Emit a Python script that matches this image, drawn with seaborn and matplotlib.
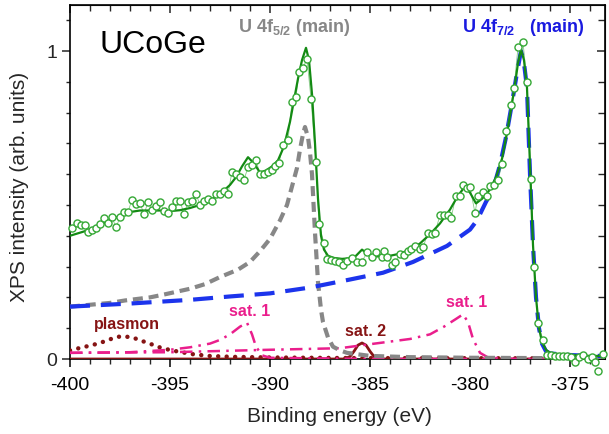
import matplotlib
matplotlib.use("Agg")
import matplotlib.pyplot as plt
from matplotlib.ticker import MultipleLocator, FixedLocator, NullFormatter
import seaborn as sns
import pandas as pd

# ---------------- data ----------------
data_x = [-399.9, -399.67, -399.45, -399.25, -399.1, -398.9, -398.7, -398.5, -398.3, -398.1,
          -397.9, -397.7, -397.5, -397.3, -397.1, -396.9, -396.7, -396.5, -396.3, -396.1,
          -395.9, -395.7, -395.5, -395.3, -395.1, -394.9, -394.7, -394.5, -394.3, -394.1,
          -393.9, -393.7, -393.5, -393.3, -393.1, -392.9, -392.7, -392.5, -392.3, -392.1,
          -391.9, -391.7, -391.5, -391.3, -391.1, -390.9, -390.7, -390.5, -390.3, -390.1,
          -389.9, -389.75, -389.55, -389.35, -389.1, -388.9, -388.7, -388.55, -388.35, -388.15,
          -387.95, -387.7, -387.55, -387.3, -387.17, -386.95, -386.75, -386.55, -386.33, -386.13,
          -385.9, -385.65, -385.4, -385.15, -384.9, -384.7, -384.4, -384.3, -384.15, -383.9,
          -383.75, -383.5, -383.3, -383.1, -382.95, -382.75, -382.5, -382.35, -382.1, -381.9,
          -381.75, -381.5, -381.3, -381.1, -380.95, -380.7, -380.5, -380.35, -380.15, -380.0,
          -379.75, -379.6, -379.35, -379.15, -379.0, -378.8, -378.6, -378.4, -378.2, -377.95,
          -377.8, -377.6, -377.35, -377.15, -376.95, -376.8, -376.6, -376.35, -376.15, -375.95,
          -375.75, -375.55, -375.35, -375.15, -374.95, -374.75, -374.55, -374.35, -374.1, -373.9,
          -373.75, -373.6, -373.35]
data_y = [0.424, 0.441, 0.435, 0.435, 0.413, 0.420, 0.424, 0.438, 0.457, 0.443,
          0.460, 0.427, 0.460, 0.478, 0.478, 0.517, 0.503, 0.506, 0.470, 0.509,
          0.484, 0.496, 0.509, 0.479, 0.474, 0.492, 0.514, 0.514, 0.470, 0.509,
          0.512, 0.536, 0.500, 0.512, 0.519, 0.514, 0.536, 0.536, 0.546, 0.536,
          0.608, 0.600, 0.590, 0.582, 0.622, 0.630, 0.645, 0.600, 0.600, 0.608,
          0.612, 0.625, 0.636, 0.695, 0.710, 0.835, 0.850, 0.933, 0.945, 0.974,
          0.844, 0.638, 0.438, 0.376, 0.325, 0.322, 0.319, 0.314, 0.305, 0.319,
          0.327, 0.316, 0.316, 0.346, 0.330, 0.346, 0.330, 0.350, 0.330, 0.305,
          0.314, 0.340, 0.338, 0.352, 0.357, 0.368, 0.357, 0.362, 0.410, 0.406,
          0.410, 0.467, 0.467, 0.467, 0.457, 0.530, 0.530, 0.565, 0.554, 0.558,
          0.474, 0.530, 0.543, 0.530, 0.560, 0.565, 0.580, 0.633, 0.740, 0.825,
          0.880, 1.012, 1.028, 0.898, 0.584, 0.298, 0.117, 0.062, 0.013, 0.013,
          0.011, 0.011, 0.011, 0.011, 0.005, -0.009, 0.005, 0.013, 0.000, 0.005,
          -0.009, -0.040, 0.016]

fit_x = [-400, -399.5, -399, -398.5, -398, -397.5, -397, -396.5, -396, -395.5, -395, -394.5,
         -394, -393.5, -393, -392.5, -392, -391.7, -391.4, -391.1, -390.8, -390.5, -390.2,
         -389.9, -389.6, -389.3, -389.0, -388.8, -388.6, -388.4, -388.2, -388.05, -387.9,
         -387.75, -387.6, -387.45, -387.3, -387.1, -386.8, -386.4, -386.0, -385.7, -385.4,
         -385.1, -384.8, -384.4, -384.0, -383.5, -383.0, -382.5, -382.0, -381.5, -381.0,
         -380.6, -380.25, -380.0, -379.7, -379.4, -379.0, -378.7, -378.4, -378.1, -377.8,
         -377.6, -377.45, -377.3, -377.15, -377.0, -376.85, -376.7, -376.55, -376.4, -376.2,
         -376.0, -375.5, -375.0, -374.0, -373.25]
fit_y = [0.400, 0.410, 0.420, 0.435, 0.450, 0.465, 0.477, 0.482, 0.482, 0.482, 0.480, 0.483,
         0.490, 0.500, 0.515, 0.535, 0.565, 0.590, 0.625, 0.655, 0.635, 0.605, 0.612,
         0.625, 0.645, 0.690, 0.770, 0.840, 0.910, 0.970, 1.010, 0.970, 0.860,
         0.700, 0.520, 0.400, 0.355, 0.335, 0.328, 0.325, 0.327, 0.335, 0.355,
         0.340, 0.333, 0.333, 0.335, 0.342, 0.355, 0.375, 0.405, 0.440, 0.485,
         0.530, 0.560, 0.540, 0.505, 0.520, 0.550, 0.590, 0.650, 0.750, 0.870,
         0.960, 1.005, 0.970, 0.880, 0.630, 0.370, 0.200, 0.100, 0.055, 0.030,
         0.020, 0.015, 0.013, 0.010, 0.010]

f72_x = [-400, -397, -394, -392, -390, -388, -386, -384.35, -382.85, -381.15, -380.0,
         -379.65, -379.2, -378.85, -378.5, -378.2, -377.9, -377.65, -377.45, -377.3,
         -377.15, -377.0, -376.85, -376.7, -376.55, -376.4, -376.2, -376.0, -375.0,
         -374.0, -373.25]
f72_y = [0.170, 0.180, 0.192, 0.203, 0.213, 0.232, 0.258, 0.280, 0.315, 0.367, 0.420,
         0.450, 0.510, 0.550, 0.630, 0.720, 0.830, 0.930, 1.000, 0.960,
         0.880, 0.600, 0.370, 0.200, 0.100, 0.050, 0.025, 0.018, 0.013,
         0.010, 0.010]

f52_x = [-400, -398, -397.25, -396, -395.25, -394, -393.25, -392.5, -391.6, -391, -390.5,
         -390, -389.5, -389.15, -388.9, -388.65, -388.5, -388.35, -388.25, -388.1, -388.0,
         -387.9, -387.75, -387.6, -387.45, -387.35, -387.1, -386.85, -386.5, -386.15,
         -385, -383, -380, -373.25]
f52_y = [0.170, 0.182, 0.190, 0.200, 0.210, 0.228, 0.243, 0.266, 0.290, 0.315, 0.350,
         0.390, 0.450, 0.500, 0.560, 0.620, 0.680, 0.730, 0.753, 0.720, 0.670,
         0.600, 0.410, 0.250, 0.160, 0.120, 0.070, 0.040, 0.028, 0.020,
         0.010, 0.006, 0.004, 0.002]

sat1a_x = [-400, -397, -395, -394, -393, -392.5, -392, -391.5, -391.15, -390.9, -390.7,
           -390.4, -390, -385, -373.25]
sat1a_y = [0.020, 0.022, 0.030, 0.038, 0.050, 0.062, 0.080, 0.105, 0.118, 0.080, 0.040,
           0.012, 0.004, 0.000, 0.000]

sat1b_x = [-400, -395, -390, -386.5, -385, -383, -382, -381.3, -380.7, -380.35, -380.1,
           -379.85, -379.5, -379.1, -378, -373.25]
sat1b_y = [0.020, 0.022, 0.030, 0.035, 0.048, 0.065, 0.080, 0.105, 0.130, 0.145, 0.120,
           0.065, 0.020, 0.005, 0.000, 0.000]

plas_x = [-400, -399.75, -399.1, -398.6, -398.15, -397.75, -397.4, -397, -396.65, -396.25,
          -395.85, -395.4, -394.75, -393.9, -393.1, -391.9, -390, -388, -386, -373.25]
plas_y = [0.028, 0.032, 0.042, 0.050, 0.060, 0.070, 0.074, 0.071, 0.065, 0.055,
          0.046, 0.035, 0.026, 0.016, 0.010, 0.007, 0.005, 0.004, 0.003, 0.002]

sat2_x = [-400, -386.3, -386.0, -385.8, -385.6, -385.4, -385.2, -385.0, -384.8, -384.5, -373.25]
sat2_y = [0.0, 0.0, 0.008, 0.025, 0.045, 0.052, 0.045, 0.025, 0.008, 0.0, 0.0]

x_ticks = [-400, -395, -390, -385, -380, -375]
y_ticks = [0, 1]
x_label = "Binding energy (eV)"
y_label = "XPS intensity (arb. units)"

# ---------------- style ----------------
sns.set_style("ticks")
plt.rcParams["font.family"] = ["Liberation Sans", "DejaVu Sans"]
plt.rcParams["mathtext.fontset"] = "custom"
plt.rcParams["mathtext.rm"] = "Liberation Sans"
plt.rcParams["mathtext.bf"] = "Liberation Sans:bold"

fig = plt.figure(figsize=(6.09, 4.35), dpi=100)
ax = fig.add_axes([70 / 609, 1 - 360 / 435, 535 / 609, 354 / 435])

GREEN_LINE = "#138a13"
GREEN_PT = "#35a835"
GRAY = "#878787"
BLUE = "#1c34ec"
PINK = "#ea1e8c"
DRED = "#861414"

def curve(x, y, **kw):
    df = pd.DataFrame({"x": x, "y": y})
    sns.lineplot(data=df, x="x", y="y", ax=ax, sort=False, estimator=None, **kw)

curve(sat2_x, sat2_y, color=DRED, lw=2.0, zorder=3)
curve(plas_x, plas_y, color=DRED, lw=3.2, dashes=(0.01, 1.9), zorder=3,
      dash_capstyle="round")
curve(sat1a_x, sat1a_y, color=PINK, lw=1.8, dashes=(5, 2.5, 1, 2.5), zorder=3)
curve(sat1b_x, sat1b_y, color=PINK, lw=1.8, dashes=(5, 2.5, 1, 2.5), zorder=3)
curve(f52_x, f52_y, color=GRAY, lw=3.0, dashes=(2.4, 1.4), zorder=4)
curve(f72_x, f72_y, color=BLUE, lw=3.0, dashes=(4.8, 2.6), zorder=4)
curve(data_x, data_y, color=GREEN_PT, lw=0.6, alpha=0.6, zorder=5)
curve(fit_x, fit_y, color=GREEN_LINE, lw=1.6, zorder=6)
dfp = pd.DataFrame({"x": data_x, "y": data_y})
sns.scatterplot(data=dfp, x="x", y="y", ax=ax, marker="o", s=26, facecolor="white",
                edgecolor=GREEN_PT, linewidth=1.0, zorder=7, clip_on=False)

ax.set_xlim(-400, -373.25)
ax.set_ylim(0, 1.149)

# ticks
ax.xaxis.set_major_locator(FixedLocator(x_ticks))
ax.xaxis.set_minor_locator(MultipleLocator(1))
ax.yaxis.set_major_locator(FixedLocator(y_ticks))
ax.yaxis.set_minor_locator(MultipleLocator(0.1))
ax.set_xticklabels([str(v) for v in x_ticks])
ax.set_yticklabels([str(v) for v in y_ticks])
ax.tick_params(axis="x", which="major", direction="out", length=6, width=1.1,
               labelsize=14, pad=6.5, colors="black")
ax.tick_params(axis="x", which="minor", direction="out", length=3.5, width=1.0)
ax.tick_params(axis="y", which="major", direction="out", length=5.5, width=1.1,
               labelsize=14, pad=3.5)
ax.tick_params(axis="y", which="minor", direction="out", length=3, width=1.0)

sec_x = ax.secondary_xaxis("top")
sec_x.xaxis.set_major_locator(FixedLocator(x_ticks))
sec_x.xaxis.set_minor_locator(MultipleLocator(1))
sec_x.xaxis.set_major_formatter(NullFormatter())
sec_x.tick_params(which="major", direction="in", length=6, width=1.1)
sec_x.tick_params(which="minor", direction="in", length=4, width=1.0)

sec_y = ax.secondary_yaxis("right")
sec_y.yaxis.set_major_locator(FixedLocator(y_ticks))
sec_y.yaxis.set_minor_locator(MultipleLocator(0.1))
sec_y.yaxis.set_major_formatter(NullFormatter())
sec_y.tick_params(which="major", direction="in", length=6, width=1.1)
sec_y.tick_params(which="minor", direction="in", length=5, width=1.0)

for s in ax.spines.values():
    s.set_visible(True)
    s.set_linewidth(1.2)
    s.set_color("black")

ax.set_xlabel(x_label, fontsize=15)
ax.set_ylabel(y_label, fontsize=15)
ax.xaxis.set_label_coords(0.503, -0.133)
ax.yaxis.set_label_coords(-0.076, 0.49)

# annotations
ax.text(-398.5, 1.023, "UCoGe", fontsize=23, color="black", ha="left", va="center")
ax.text(-391.6, 1.078, r"U 4f$_{\mathbf{5/2}}$ (main)", fontsize=13, fontweight="bold",
        color=GRAY, ha="left", va="center")
ax.text(-380.4, 1.078, r"U 4f$_{\mathbf{7/2}}$   (main)", fontsize=13, fontweight="bold",
        color="#1a1ae0", ha="left", va="center")
ax.text(-397.15, 0.114, "plasmon", fontsize=11.5, fontweight="bold", color=DRED,
        ha="center", va="center")
ax.text(-391.0, 0.156, "sat. 1", fontsize=11.5, fontweight="bold", color=PINK,
        ha="center", va="center")
ax.text(-385.2, 0.091, "sat. 2", fontsize=11.5, fontweight="bold", color=DRED,
        ha="center", va="center")
ax.text(-380.15, 0.188, "sat. 1", fontsize=11.5, fontweight="bold", color=PINK,
        ha="center", va="center")

fig.savefig("out.png", dpi=100)
